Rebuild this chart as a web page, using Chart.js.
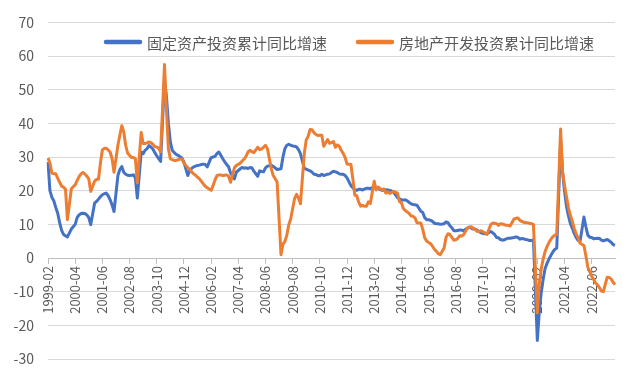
<!DOCTYPE html>
<html lang="zh">
<head>
    <meta charset="UTF-8">
    <title>固定资产投资与房地产开发投资累计同比增速</title>
    <script src="https://cdn.jsdelivr.net/npm/chart.js"></script>
    <style>
        body {
            margin: 0;
            background: #ffffff;
        }

        .chart-container {
            width: 633px;
            height: 384px;
        }
    </style>
</head>
<body>
    <div class="chart-container">
        <canvas id="invest-chart" width="633" height="384"></canvas>
    </div>

    <script>
        // Months 1999-02 .. 2023-06 (January has no separate release -> null)
        const months = [];
        for (let y = 1999; y <= 2023; y++) {
            for (let m = 1; m <= 12; m++) {
                if (y === 1999 && m < 2) continue;
                if (y === 2023 && m > 6) break;
                months.push(y + '-' + String(m).padStart(2, '0'));
            }
        }

        // 固定资产投资累计同比增速 (%)
        const faiGrowth = [
            28.5, 20, 18, 17, 15, 13.3, 10.5, 8.2, 7, 6.6, 6.3,                      // 1999 Feb-Dec
            null, 8.6, 9.3, 10, 12, 12.8, 13.2, 13.3, 13.2, 12.8, 12, 9.9,           // 2000
            null, 16.3, 16.8, 17.5, 18.2, 18.8, 19.1, 19.3, 18.5, 17.3, 15.8, 13.8,  // 2001
            null, 24.5, 26.3, 27.2, 25.5, 24.9, 24.6, 24.5, 24.6, 24.7, 23.8, 17.8,  // 2002
            null, 31.5, 31, 32, 32.5, 33.4, 33, 32.4, 31.3, 30.4, 29.5, 28.7,        // 2003
            null, 53, 48, 40, 34.5, 32, 31.3, 30.8, 30.5, 30.1, 29.7, 28.5,          // 2004
            null, 24.5, 26, 26.6, 27.1, 27.3, 27.5, 27.6, 27.8, 27.9, 27.8, 27.1,    // 2005
            null, 29.8, 30, 30.2, 31, 31.5, 30.5, 29.5, 28.6, 27.8, 27.1, 25.3,      // 2006
            null, 23.5, 25.5, 26, 26.5, 26.9, 26.7, 26.8, 26.6, 26.9, 26.8, 25.8,    // 2007
            null, 24.3, 25.9, 25.7, 25.6, 26.8, 27.3, 27.4, 27.6, 27.2, 26.8, 26.3,  // 2008
            null, 26.5, 30, 32.5, 33.5, 33.8, 33.5, 33.3, 33.2, 33, 32.2, 31,        // 2009
            null, 26.6, 26.4, 26.1, 25.9, 25.5, 24.9, 24.8, 24.5, 24.4, 24.9, 24.5,  // 2010
            null, 24.9, 25, 25.4, 25.8, 25.6, 25.4, 25, 24.9, 24.9, 24.5, 23.8,      // 2011
            null, 21.5, 20.9, 20.2, 20.1, 20.4, 20.4, 20.2, 20.5, 20.7, 20.7, 20.6,  // 2012
            null, 21.2, 20.9, 20.6, 20.4, 20.1, 20.1, 20.3, 20.2, 20.1, 19.9, 19.6,  // 2013
            null, 17.9, 17.6, 17.3, 17.2, 17.3, 17, 16.5, 16.1, 15.9, 15.8, 15.7,    // 2014
            null, 13.9, 13.5, 12, 11.4, 11.4, 11.2, 10.9, 10.3, 10.2, 10.2, 10,      // 2015
            null, 10.2, 10.7, 10.5, 9.6, 9, 8.1, 8.1, 8.2, 8.3, 8.3, 8.1,            // 2016
            null, 8.9, 9.2, 8.9, 8.6, 8.6, 8.3, 7.8, 7.5, 7.3, 7.2, 7.2,             // 2017
            null, 7.9, 7.5, 7, 6.1, 6, 5.5, 5.3, 5.4, 5.7, 5.9, 5.9,                 // 2018
            null, 6.1, 6.3, 6.1, 5.6, 5.8, 5.7, 5.5, 5.4, 5.2, 5.2, 5.4,             // 2019
            null, -24.5, -16.1, -10.3, -6.3, -3.1, -1.6, -0.3, 0.8, 1.8, 2.6, 2.9,   // 2020
            null, 35, 25.6, 19.9, 15.4, 12.6, 10.3, 8.9, 7.3, 6.1, 5.2, 4.9,         // 2021
            null, 12.2, 9.3, 6.8, 6.2, 6.1, 5.7, 5.8, 5.9, 5.8, 5.3, 5.1,            // 2022
            null, 5.5, 5.1, 4.7, 4, 3.8                                              // 2023
        ];

        // 房地产开发投资累计同比增速 (%)
        const reGrowth = [
            29.7, 28.2, 25.2, 25, 25, 23.7, 22.5, 21.4, 21, 20.5, 11.4,              // 1999 Feb-Dec
            null, 20.5, 21.2, 21.7, 23, 24.2, 25, 25.4, 25, 24.3, 23.5, 19.8,        // 2000
            null, 22.8, 23.4, 23.4, 28.2, 32.1, 32.6, 32.6, 32.1, 31.5, 29.5, 25.5,  // 2001
            null, 33.5, 36.5, 39.3, 37.5, 33.5, 31.2, 30.5, 29.9, 29.9, 29.5, 22.3,  // 2002
            null, 37.3, 34, 34, 34.2, 34.5, 34.3, 33.8, 33.1, 33, 32.6, 31.5,        // 2003
            null, 57.5, 44, 32.5, 29.5, 29.2, 29, 29, 29.2, 29.4, 29.4, 28.2,        // 2004
            null, 26.8, 26.4, 25.6, 25, 24.6, 24, 23.5, 22.8, 22, 21.3, 20.9,        // 2005
            null, 20.1, 21.5, 23.2, 24.5, 24.7, 24.7, 24.5, 24.6, 24.7, 24.3, 22.5,  // 2006
            null, 26.8, 27.5, 27.8, 28.2, 28.8, 29.4, 30.2, 31.5, 32, 31.6, 31.3,    // 2007
            null, 32.9, 32.2, 32.4, 32.9, 33.5, 32.5, 29.5, 26.5, 24.5, 23.6, 22.5,  // 2008
            null, 1, 4.1, 4.9, 6.8, 9.9, 11.6, 14.7, 17.7, 18.9, 17.8, 16.1,         // 2009
            null, 31.1, 35.1, 36.2, 38.2, 38.1, 37.2, 36.7, 36.4, 36.5, 36.5, 33.2,  // 2010
            null, 35.2, 34.1, 34.3, 34.6, 32.9, 33.6, 33.2, 32, 31.1, 29.9, 27.9,    // 2011
            null, 27.8, 23.5, 18.7, 18.5, 16.6, 15.4, 15.6, 15.4, 15.4, 16.7, 16.2,  // 2012
            null, 22.8, 20.2, 21.1, 20.6, 20.3, 20.5, 19.3, 19.7, 19.2, 19.5, 19.8,  // 2013
            null, 19.3, 16.8, 16.4, 14.7, 14.1, 13.7, 13.2, 12.5, 12.4, 11.9, 10.5,  // 2014
            null, 10.4, 8.5, 6, 5.1, 4.6, 4.3, 3.5, 2.6, 2, 1.3, 1,                  // 2015
            null, 3, 6.2, 7.2, 7, 6.1, 5.3, 5.4, 5.8, 6.6, 6.5, 6.9,                 // 2016
            null, 8.9, 9.1, 9.3, 8.8, 8.5, 7.9, 7.9, 8.1, 7.8, 7.5, 7,               // 2017
            null, 9.9, 10.4, 10.3, 10.2, 9.7, 10.2, 10.1, 9.9, 9.7, 9.7, 9.5,        // 2018
            null, 11.6, 11.8, 11.9, 11.2, 10.9, 10.6, 10.5, 10.5, 10.3, 10.2, 9.9,   // 2019
            null, -16.3, -7.7, -3.3, -0.3, 1.9, 3.4, 4.6, 5.6, 6.3, 6.8, 7,          // 2020
            null, 38.3, 25.6, 21.6, 18.3, 15, 12.7, 10.9, 8.8, 7.2, 6, 4.4,          // 2021
            null, 3.7, 0.7, -2.7, -4, -5.4, -6.4, -7.4, -8, -8.8, -9.8, -10,         // 2022
            null, -5.7, -5.8, -6.2, -7.2, -7.9                                       // 2023
        ];

        const seriesNames = ['固定资产投资累计同比增速', '房地产开发投资累计同比增速'];
        const seriesColors = ['#4472C4', '#ED7D31'];
        const labelEvery = 14;

        Chart.defaults.font.family = '"Noto Sans CJK SC", "Noto Sans", sans-serif';
        Chart.defaults.color = '#595959';

        // Legend drawn inside the plot, between the 70 and 60 grid lines
        const insideLegend = {
            id: 'insideLegend',
            afterDraw(chart) {
                const ctx = chart.ctx;
                const startX = [106, 358];
                const y = 42;
                ctx.save();
                ctx.font = '15px "Noto Sans CJK SC", sans-serif';
                ctx.textBaseline = 'middle';
                chart.data.datasets.forEach((ds, i) => {
                    const x = startX[i];
                    ctx.strokeStyle = ds.borderColor;
                    ctx.lineWidth = 4.5;
                    ctx.lineCap = 'round';
                    ctx.beginPath();
                    ctx.moveTo(x, y);
                    ctx.lineTo(x + 34, y);
                    ctx.stroke();
                    ctx.fillStyle = '#595959';
                    ctx.fillText(ds.label, x + 41, y + 1);
                });
                ctx.restore();
            }
        };

        const ctx = document.getElementById('invest-chart').getContext('2d');
        new Chart(ctx, {
            type: 'line',
            data: {
                labels: months,
                datasets: [{
                    label: seriesNames[0],
                    data: faiGrowth,
                    borderColor: seriesColors[0],
                    borderWidth: 3,
                    order: 1
                }, {
                    label: seriesNames[1],
                    data: reGrowth,
                    borderColor: seriesColors[1],
                    borderWidth: 3,
                    order: 0
                }]
            },
            options: {
                responsive: false,
                animation: false,
                spanGaps: true,
                elements: {
                    point: { radius: 0 },
                    line: { tension: 0, borderJoinStyle: 'round' }
                },
                layout: { padding: { top: 22, right: 18, bottom: 25, left: 0 } },
                plugins: {
                    legend: { display: false },
                    tooltip: { enabled: false }
                },
                scales: {
                    x: {
                        position: { y: 0 },
                        offset: false,
                        grid: { drawOnChartArea: false, drawTicks: true, tickLength: 5, tickColor: '#bfbfbf' },
                        border: { color: '#bfbfbf' },
                        ticks: {
                            autoSkip: false,
                            minRotation: 90,
                            maxRotation: 90,
                            padding: 3,
                            font: { size: 13 },
                            callback: function (value, index) {
                                return index % labelEvery === 0 ? this.getLabelForValue(value) : null;
                            }
                        },
                        afterFit: (scale) => { scale.height = 0; }
                    },
                    y: {
                        min: -30,
                        max: 70,
                        ticks: { stepSize: 10, padding: 14, font: { size: 14 } },
                        grid: { color: '#d9d9d9', drawTicks: false },
                        border: { display: false },
                        afterFit: (scale) => { scale.width = 48; }
                    }
                }
            },
            plugins: [insideLegend]
        });
    </script>
</body>
</html>
